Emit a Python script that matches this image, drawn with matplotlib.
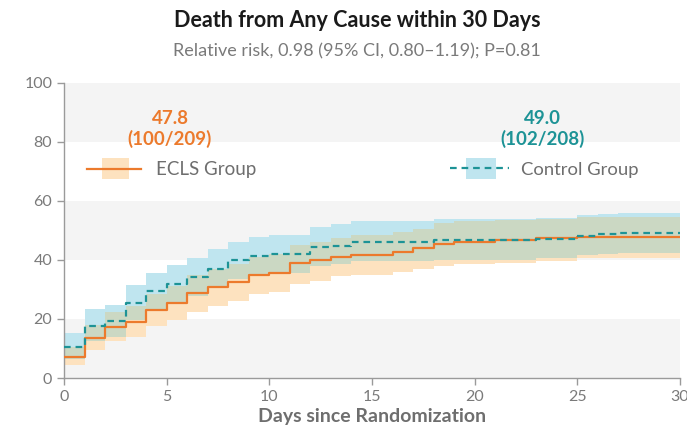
import numpy as np
import matplotlib
matplotlib.use("Agg")
import matplotlib.pyplot as plt
from matplotlib.legend_handler import HandlerBase
from matplotlib.patches import Rectangle
from matplotlib.lines import Line2D

plt.rcParams['font.family'] = ['Lato', 'DejaVu Sans']

# Kaplan-Meier style cumulative death (%) by day 0..29, with 95% CI bands
days = np.arange(0, 31)

ecls = [7.2, 13.4, 17.2, 19.1, 23.0, 25.4, 28.7, 30.7, 32.4, 34.9,
        35.6, 38.8, 39.8, 41.1, 41.7, 41.7, 42.8, 43.9, 45.3, 46.2,
        46.2, 46.7, 46.7, 47.4, 47.4, 47.8, 47.8, 47.8, 47.8, 47.8]
ecls_lo = [4.5, 9.5, 12.5, 14.0, 17.5, 19.5, 22.5, 24.5, 26.0, 28.5,
           29.0, 32.0, 33.0, 34.5, 35.0, 35.0, 36.0, 37.0, 38.0, 38.5,
           38.5, 39.0, 39.0, 39.5, 39.5, 40.5, 40.5, 40.5, 40.5, 40.5]
ecls_hi = [10.5, 18.0, 22.5, 24.5, 28.5, 31.0, 35.0, 37.0, 38.5, 41.0,
           42.0, 45.0, 46.0, 47.5, 48.5, 48.5, 49.5, 50.5, 52.5, 53.0,
           53.0, 53.5, 53.5, 54.0, 54.0, 54.5, 54.5, 54.5, 54.5, 54.5]

control = [10.6, 17.6, 19.2, 25.5, 29.3, 31.7, 34.1, 37.0, 40.0, 41.3,
           42.0, 42.0, 44.3, 44.8, 46.0, 46.0, 46.0, 46.0, 46.6, 46.6,
           46.6, 46.6, 46.6, 47.1, 47.1, 48.1, 48.6, 49.0, 49.0, 49.0]
control_lo = [6.5, 12.5, 14.0, 19.5, 23.5, 25.5, 27.8, 30.5, 33.5, 35.0,
              35.5, 35.5, 37.8, 38.5, 39.5, 39.5, 39.5, 39.5, 40.0, 40.0,
              40.0, 40.0, 40.0, 40.5, 40.5, 41.5, 42.0, 42.5, 42.5, 42.5]
control_hi = [15.2, 23.4, 24.7, 31.5, 35.6, 38.3, 40.6, 43.6, 46.2, 47.9,
              48.5, 48.5, 51.3, 52.0, 53.0, 53.0, 53.0, 53.0, 53.8, 53.8,
              53.8, 53.8, 53.8, 54.3, 54.3, 55.3, 55.6, 56.0, 56.0, 56.0]

ecls_label = "47.8\n(100/209)"
control_label = "49.0\n(102/208)"

ORANGE = "#ec7a2c"
TEAL = "#1d9396"
PEACH = "#fde2bf"
SKY = "#bfe5ef"
MIX = "#cbd8c3"


def ext(v):
    # repeat the last value so the step reaches day 30
    return np.append(v, v[-1])


class BandLineHandler(HandlerBase):
    def __init__(self, band_color, line_kw):
        super().__init__()
        self.band_color = band_color
        self.line_kw = line_kw

    def create_artists(self, legend, orig_handle, xdescent, ydescent,
                       width, height, fontsize, trans):
        rect = Rectangle((-xdescent + width * 0.27, -ydescent - height * 0.3),
                         width * 0.5, height * 1.6, facecolor=self.band_color,
                         edgecolor='none', transform=trans)
        y = -ydescent + height / 2
        line = Line2D([-xdescent, -xdescent + width], [y, y], transform=trans,
                      **self.line_kw)
        return [rect, line]


fig = plt.figure(figsize=(6.87, 4.33), dpi=100)
ax = fig.add_axes([0.0932, 0.127, 0.8966, 0.682])

# alternating background stripes
for lo, hi in [(0, 20), (40, 60), (80, 100)]:
    ax.axhspan(lo, hi, color="#f4f4f4", zorder=0, lw=0)

e_lo, e_hi = ext(ecls_lo), ext(ecls_hi)
c_lo, c_hi = ext(control_lo), ext(control_hi)
ax.fill_between(days, e_lo, e_hi, step='post', color=PEACH, lw=0, zorder=1)
ax.fill_between(days, c_lo, c_hi, step='post', color=SKY, lw=0, zorder=1)
ov_lo = np.maximum(e_lo, c_lo)
ov_hi = np.minimum(e_hi, c_hi)
ax.fill_between(days, ov_lo, ov_hi, where=ov_hi > ov_lo, step='post',
                color=MIX, lw=0, zorder=2)

ax.step(days, ext(ecls), where='post', color=ORANGE, lw=1.6, zorder=3)
ax.step(days, ext(control), where='post', color=TEAL, lw=1.6,
        dashes=(3, 2.2), zorder=4)

ax.set_xlim(0, 30)
ax.set_ylim(0, 100)
ax.set_xticks([0, 5, 10, 15, 20, 25, 30])
ax.set_yticks([0, 20, 40, 60, 80, 100])
for s in ['top', 'right']:
    ax.spines[s].set_visible(False)
for s in ['left', 'bottom']:
    ax.spines[s].set_color("#9a9a9a")
    ax.spines[s].set_linewidth(1.0)
ax.tick_params(colors="#9a9a9a", labelcolor="#7a7a7a", labelsize=11.5,
               length=5, width=1.0)
ax.set_xlabel("Days since Randomization", fontsize=14, fontweight='bold',
              color="#6e6e6e", labelpad=3)

# end-of-follow-up values above each legend entry
ax.text(5.16, 84.3, ecls_label, ha='center', va='center', fontsize=13.5,
        fontweight='bold', color=ORANGE, linespacing=1.2)
ax.text(23.3, 84.3, control_label, ha='center', va='center', fontsize=13.5,
        fontweight='bold', color=TEAL, linespacing=1.2)

h1 = Line2D([], [])
h2 = Line2D([], [])
leg1 = ax.legend([h1], ["ECLS Group"], loc='center left',
                 bbox_to_anchor=(0.01, 0.705), frameon=False, fontsize=13.5,
                 handlelength=2.9, handletextpad=0.75, labelcolor="#6e6e6e",
                 handler_map={h1: BandLineHandler(PEACH, dict(color=ORANGE, lw=1.6))})
ax.add_artist(leg1)
ax.legend([h2], ["Control Group"], loc='center left',
          bbox_to_anchor=(0.6, 0.705), frameon=False, fontsize=13.3,
          handlelength=3.2, handletextpad=0.65, labelcolor="#6e6e6e",
          handler_map={h2: BandLineHandler(SKY, dict(color=TEAL, lw=1.6,
                                                      dashes=(3, 2.2)))})

fig.text(0.52, 0.952, "Death from Any Cause within 30 Days", ha='center',
         va='center', fontsize=15.5, fontweight='bold', color="#1a1a1a")
fig.text(0.52, 0.882, "Relative risk, 0.98 (95% CI, 0.80\u20131.19); P=0.81",
         ha='center', va='center', fontsize=13, color="#7a7a7a")

fig.savefig("out.png", dpi=100)
